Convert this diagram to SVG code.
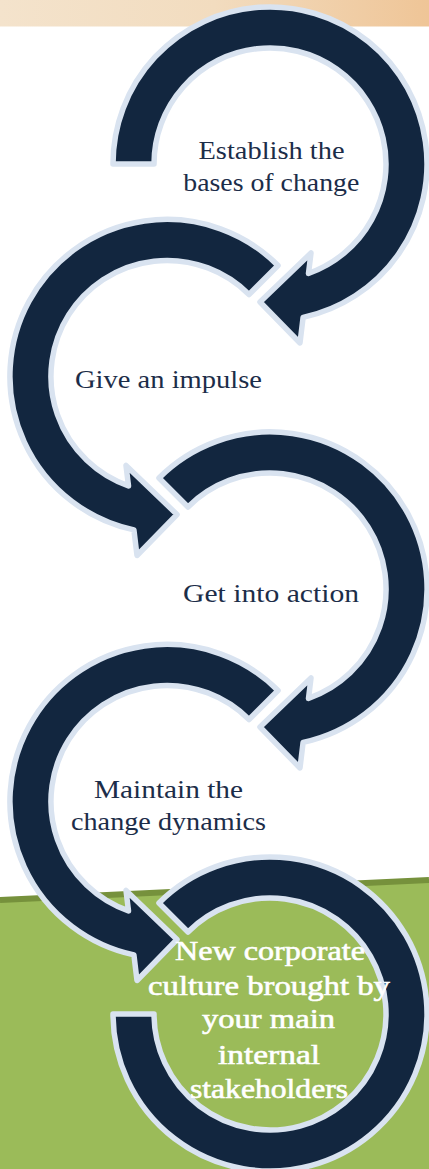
<svg xmlns="http://www.w3.org/2000/svg" xmlns:xlink="http://www.w3.org/1999/xlink" width="429" height="1169" viewBox="0 0 429 1169">
<defs>
<linearGradient id="peach" x1="0" y1="0" x2="1" y2="0">
<stop offset="0" stop-color="#f4e3cc"/>
<stop offset="0.5" stop-color="#f2dcbf"/>
<stop offset="1" stop-color="#efc597"/>
</linearGradient>
<style>
.arr{fill:#12263f;stroke:#d9e3f0;stroke-width:5.5;stroke-linejoin:round}
.lbl{font-family:"Liberation Serif","Times New Roman",serif;font-size:26px;fill:#1c2d49;text-anchor:middle}
.wl{font-family:"Liberation Serif","Times New Roman",serif;font-size:27.5px;fill:#ffffff;stroke:#ffffff;stroke-width:0.6;text-anchor:middle}
</style>
<path id="arrowA" d="M158.98,52.98 A157,157 0 1 1 303.1,317.4 L300,343 L260,302 L311,253 L308.5,273.4 A116,116 0 1 0 187.98,81.98 Z"/>
</defs>
<rect x="0" y="0" width="429" height="1169" fill="#ffffff"/>
<rect x="0" y="0" width="429" height="26.5" fill="url(#peach)"/>
<g id="green-ground">
<polygon points="0,899 429,879 429,1169 0,1169" fill="#9bbb59"/>
<line x1="0" y1="900" x2="429" y2="880" stroke="#76913c" stroke-width="6"/>
</g>
<g id="connectors"></g>
<g id="step1">
<path class="arr" d="M113,164 A157,157 0 1 1 303.1,317.4 L300,343 L260,302 L311,253 L308.5,273.4 A116,116 0 1 0 154,164 Z"/>
<text class="lbl" x="271.5" y="159" textLength="146" lengthAdjust="spacingAndGlyphs">Establish the</text>
<text class="lbl" x="271.3" y="191" textLength="176" lengthAdjust="spacingAndGlyphs">bases of change</text>
</g>
<g id="step2">
<use xlink:href="#arrowA" href="#arrowA" class="arr" transform="matrix(-1 0 0 1 437 212.5)"/>
<text class="lbl" x="168.5" y="388" textLength="187" lengthAdjust="spacingAndGlyphs">Give an impulse</text>
</g>
<g id="step3">
<use xlink:href="#arrowA" href="#arrowA" class="arr" transform="translate(0 425)"/>
<text class="lbl" x="271" y="601.5" textLength="176" lengthAdjust="spacingAndGlyphs">Get into action</text>
</g>
<g id="step4">
<use xlink:href="#arrowA" href="#arrowA" class="arr" transform="matrix(-1 0 0 1 437 637.5)"/>
<text class="lbl" x="168.5" y="798" textLength="149" lengthAdjust="spacingAndGlyphs">Maintain the</text>
<text class="lbl" x="168.5" y="829.5" textLength="195" lengthAdjust="spacingAndGlyphs">change dynamics</text>
</g>
<g id="step5">
<path class="arr" d="M158.98,902.98 A157,157 0 1 1 113,1014 L154,1014 A116,116 0 1 0 187.98,931.98 Z"/>
<text class="wl" x="270" y="960" textLength="190" lengthAdjust="spacingAndGlyphs">New corporate</text>
<text class="wl" x="269" y="995" textLength="242" lengthAdjust="spacingAndGlyphs">culture brought by</text>
<text class="wl" x="268.5" y="1028" textLength="133" lengthAdjust="spacingAndGlyphs">your main</text>
<text class="wl" x="269" y="1064" textLength="102" lengthAdjust="spacingAndGlyphs">internal</text>
<text class="wl" x="269" y="1098" textLength="158" lengthAdjust="spacingAndGlyphs">stakeholders</text>
</g>
</svg>
